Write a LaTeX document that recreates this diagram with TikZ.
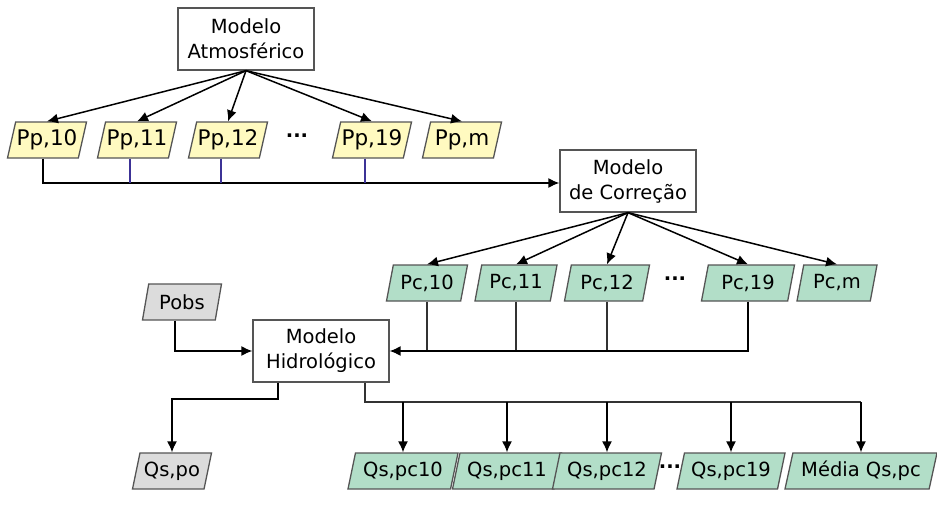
\documentclass[tikz,border=0pt]{standalone}
\usepackage{fontspec}
\setmainfont{DejaVu Sans}
\usetikzlibrary{shapes.geometric,arrows.meta}

\definecolor{ppyellow}{RGB}{255,250,192}
\definecolor{pcgreen}{RGB}{178,222,200}
\definecolor{obsgray}{RGB}{220,220,220}
\definecolor{edgegray}{RGB}{85,85,85}
\definecolor{wiregray}{RGB}{50,50,50}
\definecolor{busblue}{RGB}{60,50,150}

\tikzset{
  model/.style={draw=edgegray,line width=1.3pt,fill=white,align=center,
    minimum width=136pt,minimum height=62pt,inner sep=2pt},
  series/.style={trapezium,trapezium left angle=70,trapezium right angle=110,
    trapezium stretches body,draw=edgegray,line width=1.3pt,
    minimum height=36pt,inner xsep=0pt,inner ysep=1pt},
  ppbox/.style={series,fill=ppyellow,minimum width=79pt,
    font=\fontsize{21.5}{24}\selectfont},
  wire/.style={wiregray,line width=1.5pt},
  feed/.style={wire,-{Latex[length=11pt,width=10pt]},black}
}

\begin{document}
\begin{tikzpicture}[x=1pt,y=-1pt,font=\fontsize{19.5}{25}\selectfont]
  \useasboundingbox (0,0) rectangle (937,506);

  \node[model] (atmos) at (246,39) {Modelo\\Atmosférico};
  \node[model] (correc) at (628,181) {Modelo\\de Correção};
  \node[model] (hidro) at (321,351) {Modelo\\Hidrológico};

  \node[ppbox] (pp10) at (47,140) {Pp,10};
  \node[ppbox] (pp11) at (137,140) {Pp,11};
  \node[ppbox] (pp12) at (228,140) {Pp,12};
  \node (ppdots) at (297,136) {\textbf{...}};
  \node[ppbox] (pp19) at (372,140) {Pp,19};
  \node[ppbox] (ppm) at (462,140) {Pp,m};

  \node[series,fill=pcgreen,minimum width=81pt] (pc10) at (427,283) {Pc,10};
  \node[series,fill=pcgreen,minimum width=82pt] (pc11) at (516,283) {Pc,11};
  \node[series,fill=pcgreen,minimum width=85pt] (pc12) at (607,283) {Pc,12};
  \node (pcdots) at (675,279) {\textbf{...}};
  \node[series,fill=pcgreen,minimum width=93pt] (pc19) at (748,283) {Pc,19};
  \node[series,fill=pcgreen,minimum width=80pt] (pcm) at (837,283) {Pc,m};

  \node[series,fill=obsgray,minimum width=79pt] (pobs) at (182,302) {Pobs};
  \node[series,fill=obsgray,minimum width=79pt] (qspo) at (172,471) {Qs,po};

  \node[series,fill=pcgreen,minimum width=110pt] (qs10) at (403,471) {Qs,pc10};
  \node[series,fill=pcgreen,minimum width=109pt] (qs11) at (507,471) {Qs,pc11};
  \node[series,fill=pcgreen,minimum width=109pt] (qs12) at (607,471) {Qs,pc12};
  \node (qsdots) at (670,467) {\textbf{...}};
  \node[series,fill=pcgreen,minimum width=108pt] (qs19) at (731,471) {Qs,pc19};
  \node[series,fill=pcgreen,minimum width=152pt] (qsm) at (861,471) {Média Qs,pc};

  \foreach \n in {pp10,pp11,pp12,pp19,ppm}
    \draw[feed] (atmos.south) -- (\n.north);
  \draw[feed] ([xshift=-4pt]pp10.south) |- ([yshift=-2pt]correc.west);
  \foreach \n in {pp11,pp12,pp19}
    \draw[busblue,line width=1.5pt] ([xshift=-7pt]\n.south) -- ([xshift=-7pt,yshift=-2pt]\n.south |- correc.west);

  \foreach \n in {pc10,pc11,pc12,pc19,pcm}
    \draw[feed] (correc.south) -- (\n.north);
  \foreach \n in {pc10,pc11,pc12}
    \draw[wire] (\n.south) -- (\n.south |- hidro.east);
  \draw[feed] (pc19.south) |- (hidro.east);

  \draw[feed] ([xshift=-7pt]pobs.south) |- (hidro.west);

  \coordinate (leftknee) at (278,399);
  \coordinate (rightknee) at (365,402);
  \draw[feed] (hidro.south -| leftknee) -- (leftknee) -| (qspo.north);
  \draw[wire] (hidro.south -| rightknee) -- (rightknee) -- (rightknee -| qsm.north);
  \foreach \n in {qs10,qs11,qs12,qs19,qsm}
    \draw[feed] (rightknee -| \n.north) -- (\n.north);
\end{tikzpicture}
\end{document}
